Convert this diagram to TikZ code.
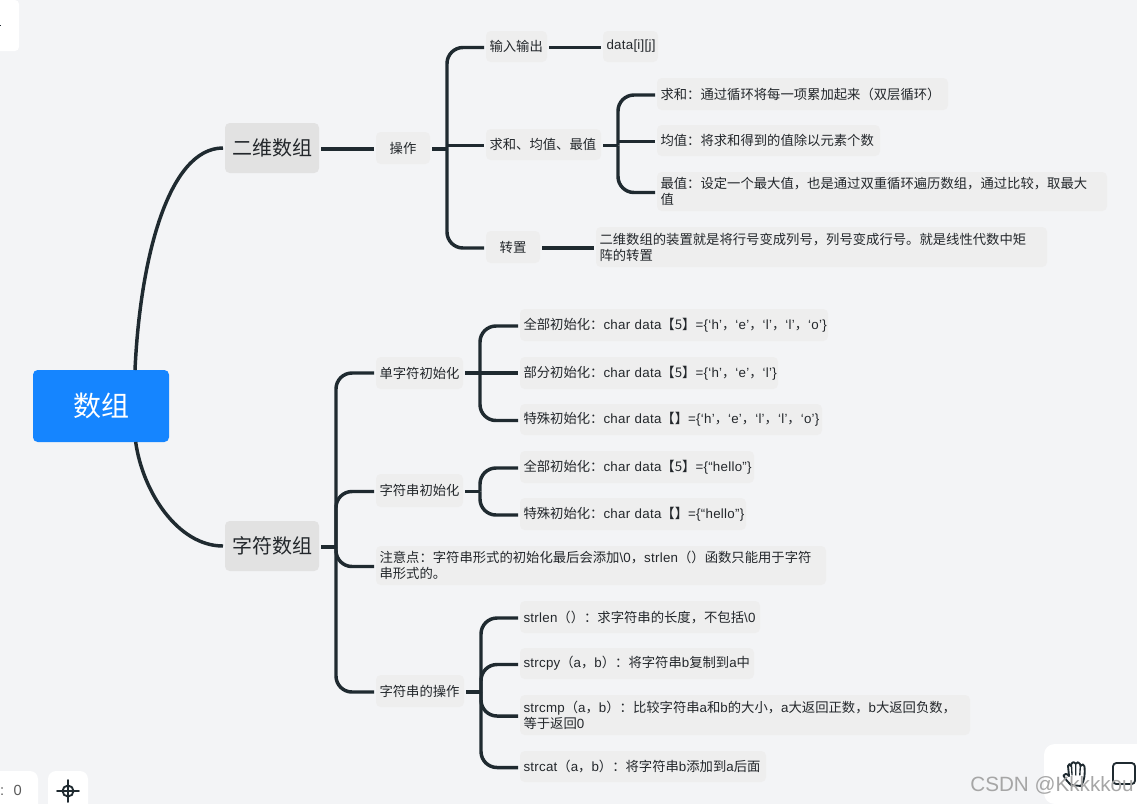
\documentclass[tikz,border=0pt]{standalone}
\usepackage{fontspec}
\setmainfont{Liberation Sans}[LetterSpace=2]
\newfontfamily\cjkf{Noto Sans CJK SC}
\newfontfamily\wmf{Liberation Sans}
\newcommand{\C}[1]{{\cjkf #1}}
\hbadness=10000 \hfuzz=20pt
\definecolor{bgc}{HTML}{F3F4F6}
\definecolor{leafc}{HTML}{EEEEEE}
\definecolor{lonec}{HTML}{E2E2E2}
\definecolor{rootc}{HTML}{1585FF}
\definecolor{inkc}{HTML}{1F2A30}
\definecolor{txtc}{HTML}{23272B}
\tikzset{
  wh/.style 2 args={minimum width=#1*0.75pt,minimum height=#2*0.75pt,text width=#1*0.75pt-5.25pt},
  leaf/.style={fill=leafc,rounded corners=3.5pt,text=txtc,anchor=north west,xshift=-1.5pt,yshift=1.5pt,
    inner xsep=2.625pt,inner ysep=0pt,outer sep=1.5pt,align=left,font=\fontsize{10}{12}\selectfont},
  mid/.style={leaf,align=center},
  lone/.style={mid,fill=lonec,font=\fontsize{15}{18}\selectfont},
  rootbox/.style={fill=rootc,rounded corners=3.5pt,text=white,anchor=north west,inner xsep=0pt,inner ysep=0pt,
    outer sep=0pt,align=center,font=\fontsize{21}{25}\selectfont},
  lk/.style={draw=inkc,line width=2.6pt},
  br/.style={lk,rounded corners=12pt},
  card/.style={fill=white},
  ui/.style={draw=inkc,line width=1.4pt,line join=round,line cap=round},
}
\begin{document}
\begin{tikzpicture}[x=0.75pt,y=-0.75pt]
\useasboundingbox (0,0) rectangle (1137,804);
\fill[bgc] (0,0) rectangle (1137,804);

% interface cards
\fill[card] [sharp corners] (0,0) [rounded corners=3pt] -- (19,0) -- (19,51) [sharp corners] -- (0,51) -- cycle;
\fill[inkc] (0,24.5) rectangle (1.2,26);
\fill[card] [sharp corners] (0,804) -- (0,771) [rounded corners=6pt] -- (38,771) [sharp corners] -- (38,804) -- cycle;
\fill[card] [sharp corners] (48,804) [rounded corners=6pt] -- (48,771) -- (88,771) [sharp corners] -- (88,804) -- cycle;
\fill[card] [sharp corners] (1137,744) [rounded corners=8pt] -- (1044,744) -- (1044,804) [sharp corners] -- (1137,804) -- cycle;
\node[text=black!65,font=\fontsize{11}{13}\selectfont,inner sep=0pt] (zoomval) at (11,790) {:\hspace{0.65em}0};
\draw[ui] (68,791) circle (5.5);
\draw[ui] (57,791) -- (79,791) (68,780) -- (68,802);
% hand icon
\draw[ui,fill=white] (1071,785) .. controls (1068,782) and (1065,779) .. (1063.5,775.5)
  .. controls (1064,773) and (1067,773.5) .. (1069,776) -- (1068,766)
  .. controls (1068,763.5) and (1070.5,763.5) .. (1071,766) -- (1071.5,763.5)
  .. controls (1072,761.5) and (1075,761.5) .. (1075.5,763.5) -- (1076,763.5)
  .. controls (1076.5,761.5) and (1079.5,762) .. (1080,764) -- (1080.5,766)
  .. controls (1081.5,763.5) and (1084.5,764) .. (1084.5,766.5)
  .. controls (1085,773) and (1085,780) .. (1081,786) -- cycle;
\draw[ui,line width=1pt] (1071.5,766) -- (1072,775) (1075.8,764) -- (1075.8,775) (1080.3,766) -- (1079.8,775);
\draw[ui,rounded corners=2.5pt] (1113,763) rectangle (1135,784);

% nodes
\node[rootbox,minimum width=102pt,minimum height=54pt] (root) at (33,370) {\C{数组}};
\node[lone,wh={94}{50}] (two) at (225,123) {\C{二维数组}};
\node[lone,wh={94}{50}] (chr) at (225,521) {\C{字符数组}};
\node[mid,wh={54}{32}] (op) at (376,132) {\C{操作}};
\node[leaf,wh={61}{31}] (io) at (486,31) {\C{输入输出}};
\node[leaf,wh={115}{31}] (sum) at (486,129) {\C{求和、均值、最值}};
\node[mid,wh={54}{32}] (tr) at (486,231) {\C{转置}};
\node[leaf,wh={55}{31}] (dat) at (603,31) {\mbox{data[i][j]}};
\node[leaf,wh={291}{32}] (s1) at (657,78) {\C{求和：通过循环将每一项累加起来（双层循环）}};
\node[leaf,wh={223}{31}] (s2) at (657,125) {\C{均值：将求和得到的值除以元素个数}};
\node[leaf,wh={450}{39}] (s3) at (657,172) {\C{最值：设定一个最大值，也是通过双重循环遍历数组，通过比较，取最大}\\\C{值}};
\node[leaf,wh={451}{40}] (trt) at (596,227) {\C{二维数组的装置就是将行号变成列号，列号变成行号。就是线性代数中矩}\\\C{阵的转置}};
\node[leaf,wh={87}{32}] (sc) at (376,357) {\C{单字符初始化}};
\node[leaf,wh={308}{32}] (c1) at (520,309) {\mbox{\C{全部初始化：}char data\C{【5】}=\{‘h’\C{，}‘e’\C{，}‘l’\C{，}‘l’\C{，}‘o’\}}};
\node[leaf,wh={258}{32}] (c2) at (520,357) {\mbox{\C{部分初始化：}char data\C{【5】}=\{‘h’\C{，}‘e’\C{，}‘l’\}}};
\node[leaf,wh={302}{31}] (c3) at (520,404) {\mbox{\C{特殊初始化：}char data\C{【】}=\{‘h’\C{，}‘e’\C{，}‘l’\C{，}‘l’\C{，}‘o’\}}};
\node[leaf,wh={87}{33}] (st) at (376,474) {\C{字符串初始化}};
\node[leaf,wh={234}{32}] (t1) at (520,451) {\mbox{\C{全部初始化：}char data\C{【5】}=\{“hello”\}}};
\node[leaf,wh={226}{32}] (t2) at (520,498) {\mbox{\C{特殊初始化：}char data\C{【】}=\{“hello”\}}};
\node[leaf,wh={450}{39}] (nt) at (376,546) {\mbox{\C{注意点：字符串形式的初始化最后会添加}\textbackslash 0\C{，}strlen\C{（）函数只能用于字符}}\\\C{串形式的。}};
\node[leaf,wh={88}{32}] (so) at (376,675) {\C{字符串的操作}};
\node[leaf,wh={240}{32}] (f1) at (520,601) {\mbox{strlen\C{（）：求字符串的长度，不包括}\textbackslash 0}};
\node[leaf,wh={234}{31}] (f2) at (520,648) {\mbox{strcpy\C{（}a\C{，}b\C{）：将字符串}b\C{复制到}a\C{中}}};
\node[leaf,wh={450}{40}] (f3) at (520,695) {\mbox{strcmp\C{（}a\C{，}b\C{）：比较字符串}a\C{和}b\C{的大小，}a\C{大返回正数，}b\C{大返回负数，}}\\\C{等于返回}0};
\node[leaf,wh={246}{31}] (f4) at (520,751) {\mbox{strcat\C{（}a\C{，}b\C{）：将字符串}b\C{添加到}a\C{后面}}};

% trunk positions and branching points
\coordinate (x1) at (447,0);
\coordinate (x2) at (618,0);
\coordinate (x3) at (336,0);
\coordinate (x4) at (480,0);
\coordinate (x5) at (480,0);
\coordinate (x6) at (481,0);
\coordinate (h1) at ([yshift=-.75pt]op.east -| x1);
\coordinate (h2) at ([yshift=-.75pt]sum.east -| x2);
\coordinate (h3) at ([yshift=-.75pt]chr.east -| x3);
\coordinate (h4) at (sc.east -| x4);
\coordinate (h5) at ([yshift=-.75pt]st.east -| x5);
\coordinate (h6) at ([yshift=-.75pt]so.east -| x6);

% connectors
\draw[lk] ([xshift=25.5pt]root.north) .. controls +(5,-110) and +(-55,0) .. (two.west);
\draw[lk] ([xshift=26pt]root.south) .. controls +(7,50) and +(-45,0) .. (chr.west);
\draw[lk] ([yshift=-.75pt]two.east) -- ([yshift=-.75pt]op.west);
\draw[lk] ([yshift=-.75pt]op.east) -- (h1);
\draw[br] (h1) |- ([yshift=-.75pt]io.west);
\draw[lk] ([yshift=-.75pt]sum.west -| x1) -- ([yshift=-.75pt]sum.west);
\draw[br] (h1) |- ([yshift=-.75pt]tr.west);
\draw[lk] ([yshift=-.75pt]io.east) -- ([yshift=-.75pt]dat.west);
\draw[lk] ([yshift=-.75pt]tr.east) -- ([yshift=-.75pt]trt.west);
\draw[lk] ([yshift=-.75pt]sum.east) -- (h2);
\draw[br] (h2) |- ([yshift=-.75pt]s1.west);
\draw[lk] ([yshift=-.75pt]s2.west -| x2) -- ([yshift=-.75pt]s2.west);
\draw[br] (h2) |- ([yshift=-.75pt]s3.west);
\draw[lk] ([yshift=-.75pt]chr.east) -- (h3);
\draw[br] (h3) |- (sc.west);
\draw[br] (h3) |- ([yshift=-.75pt]st.west);
\draw[br] (h3) |- ([yshift=-.75pt]nt.west);
\draw[br] (h3) |- ([yshift=-.75pt]so.west);
\draw[lk] (sc.east) -- (h4);
\draw[br] (h4) |- ([yshift=-.75pt]c1.west);
\draw[lk] (c2.west -| x4) -- (c2.west);
\draw[br] (h4) |- ([yshift=-.75pt]c3.west);
\draw[lk] ([yshift=-.75pt]st.east) -- (h5);
\draw[br] (h5) |- ([yshift=-.75pt]t1.west);
\draw[br] (h5) |- ([yshift=-.75pt]t2.west);
\draw[lk] ([yshift=-.75pt]so.east) -- (h6);
\draw[br] (h6) |- ([yshift=-.75pt]f1.west);
\draw[br] (h6) |- ([yshift=-.75pt]f2.west);
\draw[br] (h6) |- ([yshift=-.75pt]f3.west);
\draw[br] (h6) |- ([yshift=-.75pt]f4.west);

% watermark
\node[text=black!35,font=\wmf\fontsize{15.5}{18}\selectfont,inner sep=0pt,anchor=east] (wm) at (1134,785) {CSDN @Kkkkkou};
\end{tikzpicture}
\end{document}
